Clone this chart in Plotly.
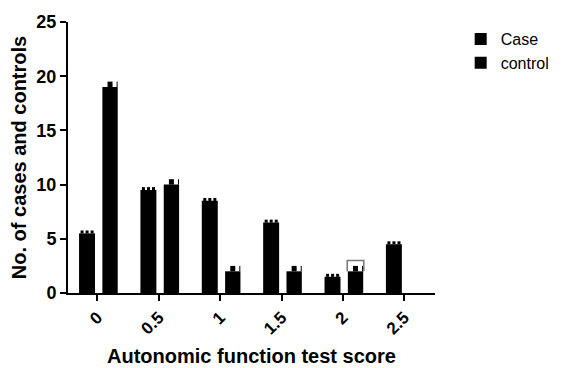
import plotly.graph_objects as go

scores = ["0", "0.5", "1", "1.5", "2", "2.5"]
case_vals = [5.5, 9.5, 8.5, 6.5, 1.5, 4.5]
control_vals = [19, 10, 2, 2, 2, 0]
control_err = [0.5, 0.5, 0.5, 0.5, 0.5, 0]

idx = list(range(len(scores)))
case_off, case_w = -0.30, 0.26
ctrl_off, ctrl_w = 0.08, 0.25

fig = go.Figure()
fig.add_trace(go.Bar(
    x=idx, y=case_vals, name="Case", width=case_w, offset=case_off,
    marker=dict(color="black", line=dict(color="#888", width=0)),
))
fig.add_trace(go.Bar(
    x=idx[:5], y=control_vals[:5], name="control", width=ctrl_w, offset=ctrl_off,
    marker=dict(color="black", line=dict(width=0)),
    error_y=dict(type="data", array=control_err[:5], symmetric=False,
                 arrayminus=[0]*5, thickness=5, width=0, color="black"),
))

# battlement teeth on top of case bars
tooth_pos = [0.049, 0.131, 0.213]
tx, ty = [], []
for i, v in zip(idx, case_vals):
    for p in tooth_pos:
        tx.append(i + case_off + p)
        ty.append(v + 0.13)
fig.add_trace(go.Scatter(x=tx, y=ty, mode="markers", showlegend=False, hoverinfo="skip",
                         marker=dict(symbol="square", size=3, color="black", line=dict(width=0))))

# thin right-edge line on control bars
lx, ly = [], []
for i, v, e in zip(idx[:5], control_vals[:5], control_err[:5]):
    xr = i + ctrl_off + ctrl_w - 0.01
    lx += [xr, xr, None]
    ly += [v, v + e, None]
fig.add_trace(go.Scatter(x=lx, y=ly, mode="lines", showlegend=False, hoverinfo="skip",
                         line=dict(color="black", width=1)))

# gray highlight box around control bar at score 2
hi = 4
xl = hi + ctrl_off - 0.01
xr2 = hi + ctrl_off + ctrl_w + 0.01
fig.add_trace(go.Scatter(
    x=[xl, xl, xr2, xr2], y=[control_vals[hi], control_vals[hi] + 1, control_vals[hi] + 1, control_vals[hi]],
    mode="lines", showlegend=False, hoverinfo="skip", line=dict(color="#777", width=1.5)))

fig.update_layout(
    width=573, height=368,
    margin=dict(l=60, r=146, t=14, b=83, pad=0, autoexpand=False),
    plot_bgcolor="white", paper_bgcolor="white",
    font=dict(family="Liberation Sans, Arial", color="black"),
    barmode="overlay",
    legend=dict(x=1.07, y=1.0, xanchor="left", yanchor="top",
                font=dict(size=16), itemwidth=30, tracegroupgap=0),
    xaxis=dict(
        range=[-0.48, 5.5], tickmode="array", tickvals=idx, ticktext=scores,
        tickangle=-45, ticks="outside", ticklen=6, tickwidth=2, tickcolor="black",
        showline=True, linecolor="black", linewidth=2, showgrid=False, zeroline=False,
        tickfont=dict(size=17, weight="bold"), automargin=False,
        title=dict(text="Autonomic function test score", font=dict(size=20, weight="bold"), standoff=12),
    ),
    yaxis=dict(
        range=[0, 25], tickmode="array", tickvals=[0, 5, 10, 15, 20, 25],
        ticks="outside", ticklen=6, tickwidth=2, tickcolor="black",
        showline=True, linecolor="black", linewidth=2, showgrid=False, zeroline=False,
        tickfont=dict(size=18, weight="bold"), automargin=False,
        title=dict(text="No. of cases and controls", font=dict(size=20, weight="bold"), standoff=4),
    ),
)

fig.write_html("out.html")
